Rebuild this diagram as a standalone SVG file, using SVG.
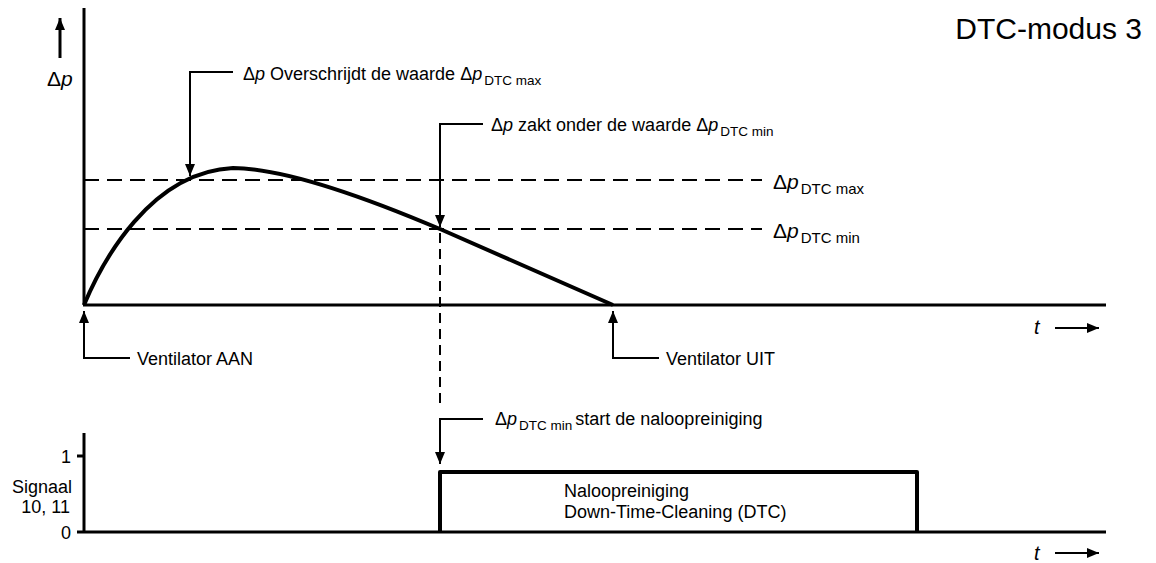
<svg xmlns="http://www.w3.org/2000/svg" width="1156" height="563" viewBox="0 0 1156 563">
<style>
text{font-family:"Liberation Sans",Arial,sans-serif;fill:#000}
.lbl{font-size:18px}
.sub{font-size:13.5px}
.it{font-style:italic}
.axis{stroke:#000;stroke-width:3;fill:none}
.dash{stroke:#000;stroke-width:2;stroke-dasharray:15 8;fill:none}
.vdash{stroke:#000;stroke-width:2;stroke-dasharray:10 6;fill:none}
.lead{stroke:#000;stroke-width:2;fill:none}
.curve{stroke:#000;stroke-width:4;fill:none}
</style>
<defs>
<marker id="ah" viewBox="0 0 12 10" refX="12" refY="5" markerWidth="12" markerHeight="10" markerUnits="userSpaceOnUse" orient="auto">
<path d="M0,0 L12,5 L0,10 Z" fill="#000"/>
</marker>
</defs>
<rect width="1156" height="563" fill="#fff"/>

<g id="title"><text x="1142" y="39" font-size="30" text-anchor="end">DTC-modus 3</text></g>

<g id="top-plot">
<line class="axis" x1="84" y1="8" x2="84" y2="305"/>
<line class="axis" x1="83" y1="305" x2="1106" y2="305"/>
<line class="dash" x1="84" y1="180" x2="762" y2="180"/>
<line class="dash" x1="84" y1="229" x2="762" y2="229"/>
<path class="curve" d="M84,305 C102,262 150,172 233,168 C280,168 360,195 440,229 L613,305"/>
<text x="47" y="86" font-size="21">Δ<tspan class="it">p</tspan></text>
<text x="1034" y="334" font-size="20" class="it">t</text>
</g>

<g id="lbl-max"><text x="773" y="189" font-size="21">Δ<tspan class="it">p</tspan><tspan font-size="15" dy="5" dx="2">DTC max</tspan></text></g>
<g id="lbl-min"><text x="773" y="238" font-size="21">Δ<tspan class="it">p</tspan><tspan font-size="15" dy="5" dx="2">DTC min</tspan></text></g>

<g id="callout-max"><text x="243" y="80" class="lbl">Δ<tspan class="it">p</tspan> Overschrijdt de waarde Δ<tspan class="it">p</tspan><tspan class="sub" dy="5" dx="2">DTC max</tspan></text></g>
<g id="callout-min"><text x="491" y="131" class="lbl">Δ<tspan class="it">p</tspan> zakt onder de waarde Δ<tspan class="it">p</tspan><tspan class="sub" dy="5" dx="2">DTC min</tspan></text></g>
<g id="vent-aan"><text x="137" y="365" class="lbl">Ventilator  AAN</text></g>
<g id="vent-uit"><text x="666" y="365" class="lbl">Ventilator UIT</text></g>
<g id="callout-start"><text x="495" y="425" class="lbl">Δ<tspan class="it">p</tspan><tspan class="sub" dy="5" dx="2">DTC min</tspan><tspan dy="-5" dx="3">start de naloopreiniging</tspan></text></g>

<g id="bottom-plot">
<line class="axis" x1="84" y1="433" x2="84" y2="533"/>
<line class="axis" x1="77" y1="532" x2="1106" y2="532"/>
<line class="axis" x1="77" y1="456" x2="84" y2="456"/>
<text x="71" y="463" font-size="18" text-anchor="end">1</text>
<text x="71" y="539" font-size="18" text-anchor="end">0</text>
<text x="72" y="493" font-size="18" text-anchor="end">Signaal</text>
<text x="70" y="513" font-size="18" text-anchor="end">10, 11</text>
<text x="1034" y="560" font-size="20" class="it">t</text>
</g>

<g id="pulse">
<path d="M440,533 L440,472 L917,472 L917,533" stroke="#000" stroke-width="4" fill="none" stroke-linejoin="round"/>
<text x="564" y="497" class="lbl">Naloopreiniging</text>
<text x="564" y="518" class="lbl">Down-Time-Cleaning (DTC)</text>
</g>

<g id="connectors">
<line class="axis" x1="60" y1="58" x2="60" y2="18" marker-end="url(#ah)"/>
<polyline class="lead" points="233,72 190,72 190,176" marker-end="url(#ah)"/>
<polyline class="lead" points="483,124 440,124 440,227" marker-end="url(#ah)"/>
<line class="vdash" x1="440" y1="233" x2="440" y2="407"/>
<polyline class="lead" points="130,358 84,358 84,311" marker-end="url(#ah)"/>
<polyline class="lead" points="659,358 613,358 613,311" marker-end="url(#ah)"/>
<polyline class="lead" points="483,419 440,419 440,464" marker-end="url(#ah)"/>
<line class="lead" x1="1055" y1="328" x2="1099" y2="328" marker-end="url(#ah)"/>
<line class="lead" x1="1055" y1="553" x2="1099" y2="553" marker-end="url(#ah)"/>
</g>
</svg>
